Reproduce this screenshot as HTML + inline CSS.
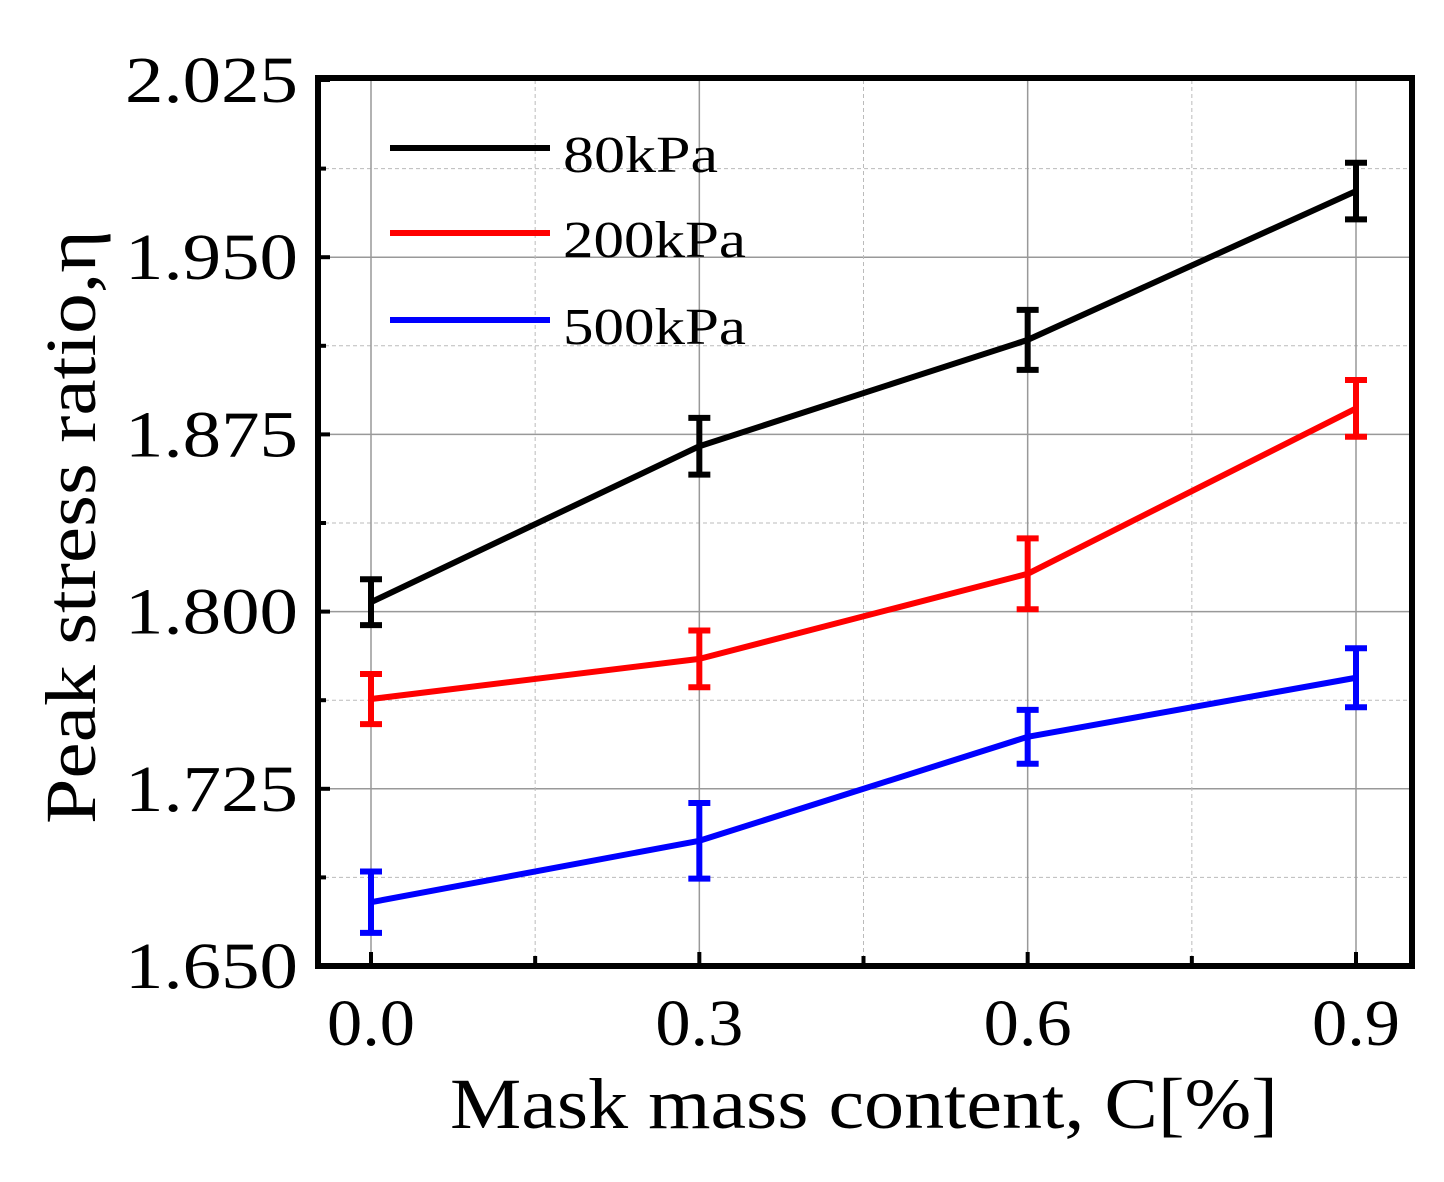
<!DOCTYPE html>
<html><head><meta charset="utf-8"><style>
html,body{margin:0;padding:0;background:#fff;}
svg{display:block;font-family:"Liberation Serif",serif;}
</style></head><body>
<svg id="chart" width="1444" height="1182" viewBox="0 0 1444 1182" xmlns="http://www.w3.org/2000/svg">
<g id="grid"></g>
<g id="series"></g>
<g id="axes"></g>
<g id="legend"></g>
</svg>
<script>
const categories = [0.0, 0.3, 0.6, 0.9];
const xTickLabels = ["0.0", "0.3", "0.6", "0.9"];
const yTicks = [1.650, 1.725, 1.800, 1.875, 1.950, 2.025];
const yTickLabels = ["1.650", "1.725", "1.800", "1.875", "1.950", "2.025"];
const seriesNames = ["80kPa", "200kPa", "500kPa"];
const seriesColors = ["#000000", "#ff0000", "#0000ff"];
const values80 = [1.804, 1.870, 1.915, 1.978];
const err80 = [0.0097, 0.012, 0.0127, 0.012];
const values200 = [1.763, 1.780, 1.816, 1.886];
const err200 = [0.0106, 0.012, 0.015, 0.012];
const values500 = [1.677, 1.703, 1.747, 1.772];
const err500 = [0.013, 0.016, 0.0114, 0.0125];

const NS = "http://www.w3.org/2000/svg";
const L = 318, R = 1412, T = 80, B = 966;
function xs(v){ return 371 + (v - 0) * (1356 - 371) / 0.9; }
function ys(v){ return B - (v - 1.650) * (B - T) / 0.375; }
function mk(parent, tag, attrs){
  const e = document.createElementNS(NS, tag);
  for (const k in attrs) e.setAttribute(k, attrs[k]);
  parent.appendChild(e);
  return e;
}
const grid = document.getElementById('grid');
const axes = document.getElementById('axes');
const series = document.getElementById('series');
const legend = document.getElementById('legend');

yTicks.forEach((t, i) => {
  const y = ys(t);
  if (i > 0 && i < yTicks.length - 1) {
    const g = mk(grid, 'line', {x1:L, x2:R, y1:y, y2:y, stroke:'#999', 'stroke-width':1.5});
    
    
  }
  if (i < yTicks.length - 1) {
    const ym = ys(t + 0.0375);
    const g2 = mk(grid, 'line', {x1:L, x2:R, y1:ym, y2:ym, stroke:'#bbb', 'stroke-width':1, 'stroke-dasharray':'4,3'});
    
    
  }
});
categories.forEach((c, i) => {
  const x = xs(c);
  const g = mk(grid, 'line', {x1:x, x2:x, y1:T, y2:B, stroke:'#999', 'stroke-width':1.5});
  
  
  if (i < categories.length - 1) {
    const xm = xs(c + 0.15);
    const g2 = mk(grid, 'line', {x1:xm, x2:xm, y1:T, y2:B, stroke:'#bbb', 'stroke-width':1, 'stroke-dasharray':'4,3'});
    
    
    const mt = mk(axes, 'line', {x1:xm, x2:xm, y1:B, y2:B-10, stroke:'#000', 'stroke-width':4});
    
    
  }
});

const allVals = [values80, values200, values500];
const allErr = [err80, err200, err500];
allVals.forEach((vals, s) => {
  const col = seriesColors[s];
  const pts = vals.map((v, i) => xs(categories[i]) + ',' + ys(v)).join(' ');
  const pl = mk(series, 'polyline', {points:pts, fill:'none', stroke:col, 'stroke-width':6, 'stroke-linejoin':'round'});
  
  
  vals.forEach((v, i) => {
    const x = xs(categories[i]), y1 = ys(v + allErr[s][i]), y2 = ys(v - allErr[s][i]);
    const eb = mk(series, 'path', {d:`M${x},${y1}V${y2}M${x-11},${y1}H${x+11}M${x-11},${y2}H${x+11}`, stroke:col, 'stroke-width':6, fill:'none'});
    
    
  });
});

const fr = mk(axes, 'rect', {x:L, y:T-2, width:R-L, height:B-T+2, fill:'none', stroke:'#000', 'stroke-width':6});


yTicks.forEach((t, i) => {
  const y = ys(t);
  const tk = mk(axes, 'line', {x1:L, x2:L+12, y1:y, y2:y, stroke:'#000', 'stroke-width':4});
  
  
  if (i < yTicks.length - 1) {
    const ym = ys(t + 0.0375);
    const mt = mk(axes, 'line', {x1:L, x2:L+8, y1:ym, y2:ym, stroke:'#000', 'stroke-width':4});
    
    
  }
  const lb = mk(axes, 'text', {x:125, y:y+22, 'font-size':66, fill:'#000', textLength:173, lengthAdjust:'spacingAndGlyphs'});
  lb.textContent = yTickLabels[i];
  
  
});
categories.forEach((c, i) => {
  const x = xs(c);
  const tk = mk(axes, 'line', {x1:x, x2:x, y1:B, y2:B-14, stroke:'#000', 'stroke-width':4});
  
  
  const lb = mk(axes, 'text', {x:x-44, y:1045, 'font-size':66, fill:'#000', textLength:88, lengthAdjust:'spacingAndGlyphs'});
  lb.textContent = xTickLabels[i];
  
  
});
const xt = mk(axes, 'text', {x:450, y:1128, 'font-size':72, fill:'#000', textLength:828, lengthAdjust:'spacingAndGlyphs'});
xt.textContent = 'Mask mass content, C[%]';


const yt = mk(axes, 'text', {x:0, y:0, 'font-size':72, fill:'#000', textLength:594, lengthAdjust:'spacingAndGlyphs', transform:'translate(95,824) rotate(-90)'});
yt.textContent = 'Peak stress ratio,η';



const legY = [148, 233, 320];
const legW = [155, 183, 183];
seriesNames.forEach((n, s) => {
  const ln = mk(legend, 'line', {x1:390, x2:550, y1:legY[s], y2:legY[s], stroke:seriesColors[s], 'stroke-width':6});
  
  
  const tx = mk(legend, 'text', {x:563, y:legY[s]+24, 'font-size':52, fill:'#000', textLength:legW[s], lengthAdjust:'spacingAndGlyphs'});
  tx.textContent = n;
  
  
});
</script>
</body></html>
